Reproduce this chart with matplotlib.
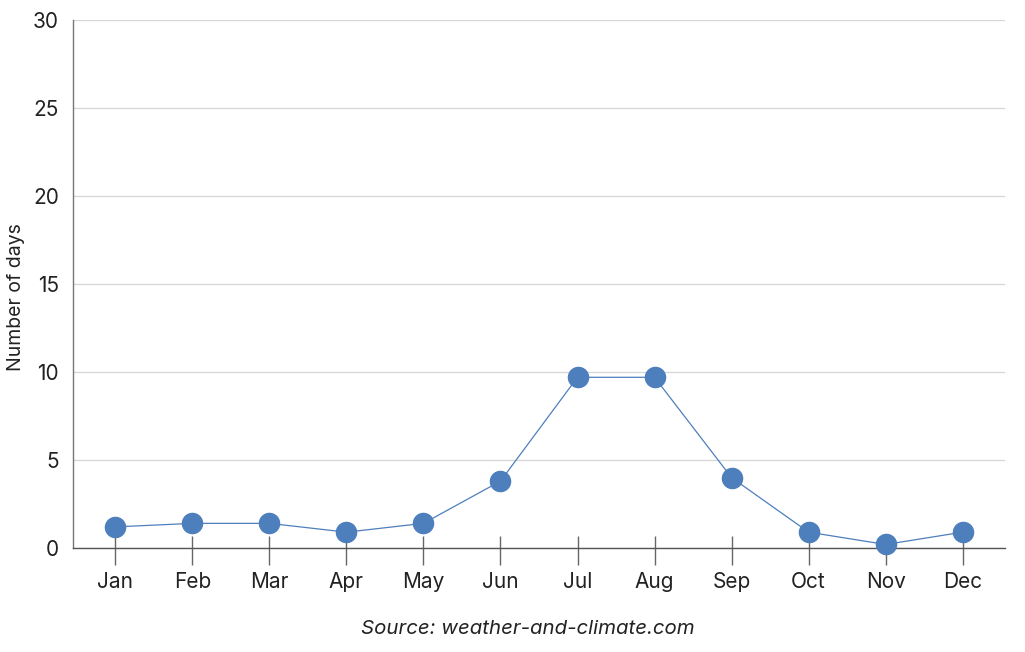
import matplotlib
matplotlib.use("Agg")
import matplotlib.pyplot as plt

plt.rcParams['font.family'] = ['Inter', 'DejaVu Sans']

# ==========================
# Данные
# ==========================
months = ["Jan", "Feb", "Mar", "Apr", "May", "Jun", "Jul", "Aug", "Sep", "Oct", "Nov", "Dec"]
days = [1.2, 1.4, 1.4, 0.9, 1.4, 3.8, 9.7, 9.7, 4.0, 0.9, 0.2, 0.9]
y_ticks = [0, 5, 10, 15, 20, 25, 30]

blue = "#4e7fbd"
x = list(range(len(months)))

fig = plt.figure(figsize=(10.25, 6.52), dpi=100)
ax = fig.add_axes([0.0712, 0.1595, 0.9093, 0.8098])

# короткие вертикальные риски над осью (под маркерами)
ax.vlines(x, 0, 0.68, colors="#666666", linewidth=1.0, zorder=1)
ax.plot(x, days, color=blue, linewidth=0.9, marker='o', markersize=14.5,
        markerfacecolor=blue, markeredgecolor=blue, zorder=3, clip_on=False)

ax.set_xlim(-0.55, 11.55)
ax.set_ylim(0, 30)
ax.set_xticks(x)
ax.set_xticklabels(months)
ax.set_yticks(y_ticks)
ax.grid(axis='y', color="#d6d6d6", linewidth=0.9, zorder=0)
ax.set_axisbelow(True)

for s in ("top", "right"):
    ax.spines[s].set_visible(False)
ax.spines["left"].set_color("#777777")
ax.spines["bottom"].set_color("#555555")
ax.spines["left"].set_linewidth(1.0)
ax.spines["bottom"].set_linewidth(1.0)

ax.tick_params(axis='x', length=12, width=1.0, color="#666666", pad=5,
               labelsize=15, labelcolor="#222222")
ax.tick_params(axis='y', length=0, pad=10, labelsize=15, labelcolor="#222222")

ax.set_ylabel("Number of days", fontsize=14, color="#222222")
ax.yaxis.set_label_coords(-0.052, 0.475)

fig.text(0.5145, 0.035, "Source: weather-and-climate.com", ha='center', va='center',
         fontsize=14.7, style='italic', color="#222222")

fig.savefig("out.png", dpi=100)
